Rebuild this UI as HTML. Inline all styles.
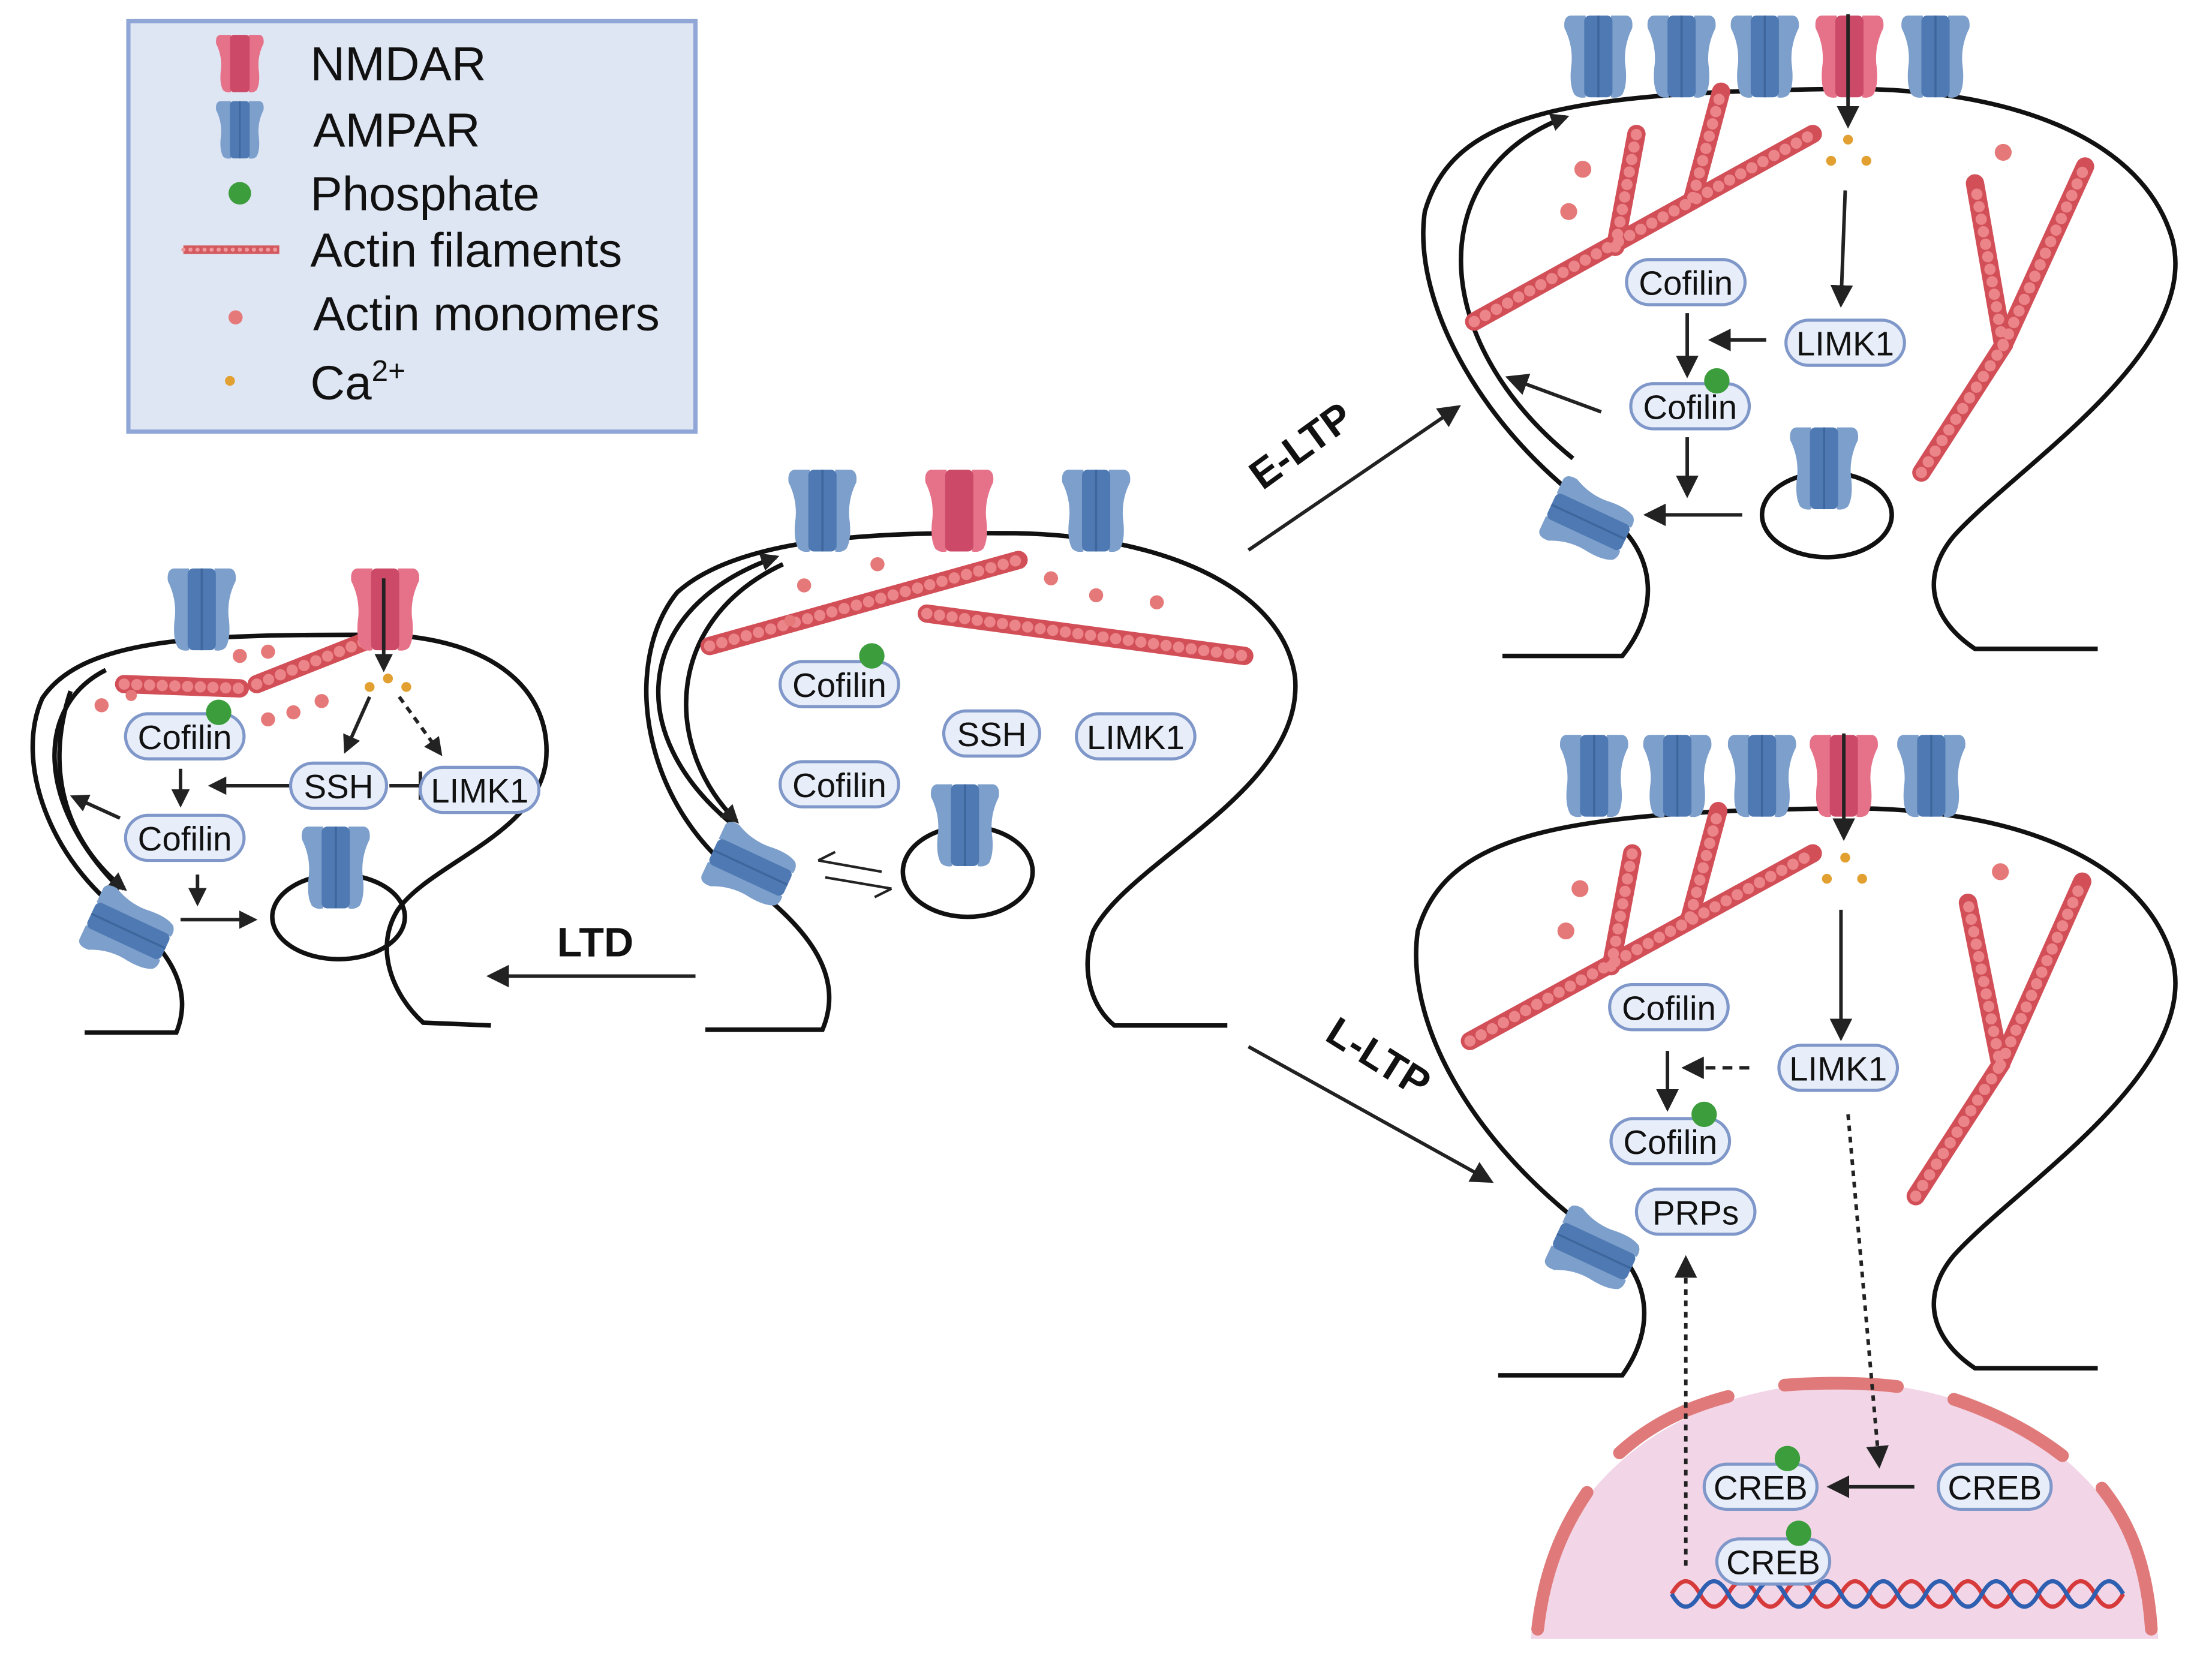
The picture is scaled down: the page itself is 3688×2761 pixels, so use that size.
<!DOCTYPE html>
<html><head><meta charset="utf-8"><style>
html,body{margin:0;padding:0;background:#fff}
svg{display:block}
text{font-family:"Liberation Sans",sans-serif}
</style></head><body>
<svg width="3688" height="2761" viewBox="0 0 1568 1174" preserveAspectRatio="none" xmlns="http://www.w3.org/2000/svg">
<defs>
<marker id="ah" viewBox="0 0 10 10" refX="8" refY="5" markerWidth="16" markerHeight="16" markerUnits="userSpaceOnUse" orient="auto"><path d="M0,0 L10,5 L0,10 z" fill="#222"/></marker>
<marker id="ahs" viewBox="0 0 10 10" refX="8" refY="5" markerWidth="13" markerHeight="13" markerUnits="userSpaceOnUse" orient="auto"><path d="M0,0 L10,5 L0,10 z" fill="#222"/></marker>
<g id="amp">
<path d="M-9,-29 L-20,-29 Q-25,-28 -24,-20 Q-18,-8 -19,5 Q-21,20 -17,27 Q-14,30 -9,29 z" fill="#7d9fcc"/>
<path d="M9,-29 L20,-29 Q25,-28 24,-20 Q18,-8 19,5 Q21,20 17,27 Q14,30 9,29 z" fill="#7d9fcc"/>
<rect x="-10" y="-29" width="20" height="58" rx="4" fill="#4e79b2"/>
<line x1="0" y1="-29" x2="0" y2="29" stroke="#3e669c" stroke-width="1.5"/>
</g>
<g id="nmd">
<path d="M-9,-29 L-20,-29 Q-25,-28 -24,-20 Q-18,-8 -19,5 Q-21,20 -17,27 Q-14,30 -9,29 z" fill="#e6728a"/>
<path d="M9,-29 L20,-29 Q25,-28 24,-20 Q18,-8 19,5 Q21,20 17,27 Q14,30 9,29 z" fill="#e6728a"/>
<rect x="-10" y="-29" width="20" height="58" rx="4" fill="#cc4a68"/>
</g>
</defs>

<!-- Legend -->
<rect x="91" y="15" width="402" height="291" fill="#dfe6f3" stroke="#8fa6d6" stroke-width="3"/>
<use href="#nmd" transform="translate(170,45) scale(0.7)"/>
<use href="#amp" transform="translate(170,92) scale(0.7)"/>
<circle cx="170" cy="137" r="8" fill="#3c9d3c"/>
<line x1="130" y1="177" x2="198" y2="177" stroke="#d45a60" stroke-width="6"/>
<line x1="130" y1="177" x2="198" y2="177" stroke="#ee9a9d" stroke-width="3" stroke-dasharray="0 5" stroke-linecap="round"/>
<circle cx="167" cy="225" r="5" fill="#e57878"/>
<circle cx="163" cy="270" r="3.5" fill="#e2a030"/>
<g font-size="34" fill="#111">
<text x="220" y="57">NMDAR</text>
<text x="222" y="104">AMPAR</text>
<text x="220" y="149">Phosphate</text>
<text x="220" y="189">Actin filaments</text>
<text x="222" y="234">Actin monomers</text>
<text x="220" y="283">Ca<tspan font-size="21" dy="-13">2+</tspan></text>
</g>

<!-- Spines -->
<g fill="none" stroke="#111" stroke-width="3.2">
<path d="M500,730 L583,730 C600,690 570,655 525,622 C455,570 440,470 480,420 C530,375 650,378 720,378 C830,380 910,420 918,480 C925,560 800,610 775,660 C765,690 775,715 790,727 L870,727"/>
<path d="M60,732 L125,732 C138,700 118,672 90,650 C35,610 10,540 30,495 C60,450 150,450 270,450 C350,452 392,490 387,540 C380,592 305,612 282,645 C265,672 278,705 300,725 L348,727"/>
<path d="M1065,465 L1150,465 C1178,430 1170,395 1150,375 C1060,320 1000,220 1010,150 C1030,80 1110,65 1310,63 C1430,63 1520,100 1540,170 C1560,250 1430,330 1385,380 C1360,410 1370,440 1400,460 L1487,460"/>
<path d="M1062,975 L1150,975 C1175,940 1168,905 1142,883 C1050,820 995,730 1005,660 C1025,590 1110,575 1310,573 C1430,573 1520,610 1540,680 C1560,760 1430,840 1385,890 C1360,920 1370,950 1400,970 L1487,970"/>
<path d="M520,585 C440,520 450,430 550,395" marker-end="url(#ahs)"/>
<path d="M555,400 C470,440 470,530 522,582" marker-end="url(#ahs)"/>
<path d="M85,630 C25,570 25,500 75,475"/>
<path d="M50,490 C30,550 50,600 88,630" marker-end="url(#ahs)"/>
<path d="M1115,325 C1010,240 1010,120 1110,83" marker-end="url(#ahs)"/>
<ellipse cx="686" cy="618" rx="46" ry="32"/>
<ellipse cx="240" cy="650" rx="47" ry="30"/>
<ellipse cx="1295" cy="365" rx="46" ry="30"/>
</g>

<!-- Nucleus -->
<path d="M1085,1162 C1100,1040 1200,982 1305,980 C1420,980 1520,1050 1530,1162 Z" fill="#f2d6e7"/>
<g fill="none" stroke="#e07a7a" stroke-width="9" stroke-linecap="round">
<path d="M1090,1155 C1095,1110 1110,1080 1125,1058"/>
<path d="M1148,1030 C1170,1010 1195,998 1225,990"/>
<path d="M1265,982 C1290,980 1320,980 1345,983"/>
<path d="M1385,992 C1415,1002 1440,1015 1462,1032"/>
<path d="M1490,1055 C1510,1080 1522,1110 1525,1155"/>
</g>
<path d="M1185,1130 q10,-18 20,0 t20,0 t20,0 t20,0 t20,0 t20,0 t20,0 t20,0 t20,0 t20,0 t20,0 t20,0 t20,0 t20,0 t20,0 t20,0" fill="none" stroke="#d63a3a" stroke-width="3"/>
<path d="M1185,1130 q10,18 20,0 t20,0 t20,0 t20,0 t20,0 t20,0 t20,0 t20,0 t20,0 t20,0 t20,0 t20,0 t20,0 t20,0 t20,0 t20,0" fill="none" stroke="#2e5fb0" stroke-width="3"/>

<!-- Actin filaments -->
<g fill="none" stroke-linecap="round">
<g stroke="#d24f58" stroke-width="13">
<path d="M503,458 L722,397"/><path d="M657,435 Q770,450 882,465"/>
<path d="M88,485 L170,488"/><path d="M182,485 L258,455"/>
<path d="M1045,228 L1285,95"/><path d="M1145,175 L1160,95"/><path d="M1200,140 L1220,65"/>
<path d="M1362,335 L1420,245 L1400,130"/><path d="M1420,245 L1478,118"/>
<path d="M1042,738 L1285,605"/><path d="M1142,685 L1157,605"/><path d="M1198,650 L1218,575"/>
<path d="M1358,848 L1418,755 L1395,640"/><path d="M1418,755 L1476,625"/>
</g>
<g stroke="#eb8589" stroke-width="8" stroke-dasharray="0 9">
<path d="M503,458 L722,397"/><path d="M657,435 Q770,450 882,465"/>
<path d="M88,485 L170,488"/><path d="M182,485 L258,455"/>
<path d="M1045,228 L1285,95"/><path d="M1145,175 L1160,95"/><path d="M1200,140 L1220,65"/>
<path d="M1362,335 L1420,245 L1400,130"/><path d="M1420,245 L1478,118"/>
<path d="M1042,738 L1285,605"/><path d="M1142,685 L1157,605"/><path d="M1198,650 L1218,575"/>
<path d="M1358,848 L1418,755 L1395,640"/><path d="M1418,755 L1476,625"/>
</g>
</g>
<g fill="#e57878">
<circle cx="570" cy="415" r="5"/><circle cx="622" cy="400" r="5"/><circle cx="745" cy="410" r="5"/><circle cx="777" cy="422" r="5"/><circle cx="820" cy="427" r="5"/><circle cx="560" cy="440" r="4"/>
<circle cx="72" cy="500" r="5"/><circle cx="170" cy="465" r="5"/><circle cx="190" cy="462" r="5"/><circle cx="190" cy="510" r="5"/><circle cx="208" cy="505" r="5"/><circle cx="228" cy="497" r="5"/><circle cx="93" cy="493" r="4"/>
<circle cx="1122" cy="120" r="6"/><circle cx="1112" cy="150" r="6"/><circle cx="1420" cy="108" r="6"/>
<circle cx="1120" cy="630" r="6"/><circle cx="1110" cy="660" r="6"/><circle cx="1418" cy="618" r="6"/>
</g>
<g fill="#e2a030">
<circle cx="262" cy="487" r="3.5"/><circle cx="275" cy="481" r="3.5"/><circle cx="288" cy="487" r="3.5"/>
<circle cx="1310" cy="99" r="3.5"/><circle cx="1298" cy="114" r="3.5"/><circle cx="1323" cy="114" r="3.5"/>
<circle cx="1308" cy="608" r="3.5"/><circle cx="1295" cy="623" r="3.5"/><circle cx="1320" cy="623" r="3.5"/>
</g>

<!-- Receptors -->
<use href="#amp" transform="translate(583,362)"/><use href="#nmd" transform="translate(680,362)"/><use href="#amp" transform="translate(777,362)"/>
<use href="#amp" transform="translate(684,585)"/><use href="#amp" transform="translate(532,615) rotate(-65)"/>
<use href="#amp" transform="translate(143,432)"/><use href="#nmd" transform="translate(273,432)"/>
<use href="#amp" transform="translate(238,615)"/><use href="#amp" transform="translate(91,660) rotate(-65)"/>
<use href="#amp" transform="translate(1133,40)"/><use href="#amp" transform="translate(1192,40)"/><use href="#amp" transform="translate(1251,40)"/><use href="#nmd" transform="translate(1311,40)"/><use href="#amp" transform="translate(1372,40)"/>
<use href="#amp" transform="translate(1293,332)"/><use href="#amp" transform="translate(1126,370) rotate(-65)"/>
<use href="#amp" transform="translate(1130,550)"/><use href="#amp" transform="translate(1189,550)"/><use href="#amp" transform="translate(1249,550)"/><use href="#nmd" transform="translate(1307,550)"/><use href="#amp" transform="translate(1369,550)"/>
<use href="#amp" transform="translate(1130,887) rotate(-65)"/>

<!-- Arrows -->
<g stroke="#222" stroke-width="2.5" fill="none">
<line x1="885" y1="390" x2="1033" y2="289" marker-end="url(#ah)"/>
<line x1="885" y1="742" x2="1056" y2="837" marker-end="url(#ah)"/>
<line x1="493" y1="692" x2="348" y2="692" marker-end="url(#ah)"/>
<path d="M580,610 L625,618 M585,622 L632,630 M580,610 L592,604 M632,630 L620,636" stroke-width="1.8"/>
<line x1="272" y1="410" x2="272" y2="474" marker-end="url(#ahs)"/>
<line x1="262" y1="494" x2="245" y2="532" marker-end="url(#ahs)"/>
<line x1="283" y1="494" x2="312" y2="534" stroke-dasharray="5 4" marker-end="url(#ahs)"/>
<line x1="205" y1="557" x2="150" y2="557" marker-end="url(#ahs)"/>
<line x1="276" y1="557" x2="298" y2="557"/><line x1="298" y1="547" x2="298" y2="567"/>
<line x1="128" y1="545" x2="128" y2="570" marker-end="url(#ahs)"/>
<line x1="140" y1="620" x2="140" y2="640" marker-end="url(#ahs)"/>
<line x1="128" y1="652" x2="180" y2="652" marker-end="url(#ahs)"/>
<line x1="85" y1="580" x2="52" y2="565" marker-end="url(#ahs)"/>
<line x1="1310" y1="10" x2="1310" y2="88" marker-end="url(#ah)"/>
<line x1="1308" y1="135" x2="1305" y2="215" marker-end="url(#ah)"/>
<line x1="1196" y1="222" x2="1196" y2="265" marker-end="url(#ah)"/>
<line x1="1252" y1="241" x2="1214" y2="241" marker-end="url(#ah)"/>
<line x1="1196" y1="310" x2="1196" y2="350" marker-end="url(#ah)"/>
<line x1="1235" y1="365" x2="1168" y2="365" marker-end="url(#ah)"/>
<line x1="1135" y1="292" x2="1070" y2="268" marker-end="url(#ah)"/>
<line x1="1307" y1="520" x2="1307" y2="593" marker-end="url(#ah)"/>
<line x1="1305" y1="645" x2="1305" y2="735" marker-end="url(#ah)"/>
<line x1="1182" y1="745" x2="1182" y2="785" marker-end="url(#ah)"/>
<line x1="1240" y1="757" x2="1195" y2="757" stroke-dasharray="7 5" marker-end="url(#ah)"/>
<line x1="1310" y1="790" x2="1332" y2="1038" stroke-dasharray="4 4" marker-end="url(#ah)"/>
<line x1="1195" y1="1110" x2="1195" y2="893" stroke-dasharray="4 4" marker-end="url(#ah)"/>
<line x1="1357" y1="1054" x2="1298" y2="1054" marker-end="url(#ah)"/>
</g>

<!-- Labels -->
<g font-size="24" fill="#111" text-anchor="middle">
<g fill="#e8eef9" stroke="#7f97c9" stroke-width="2.2">
<rect x="553" y="469" width="84" height="32" rx="16"/><rect x="669" y="504" width="68" height="32" rx="16"/><rect x="763" y="506" width="84" height="32" rx="16"/><rect x="553" y="540" width="84" height="32" rx="16"/>
<rect x="89" y="506" width="84" height="32" rx="16"/><rect x="206" y="541" width="68" height="32" rx="16"/><rect x="298" y="544" width="84" height="32" rx="16"/><rect x="89" y="578" width="84" height="32" rx="16"/>
<rect x="1153" y="184" width="84" height="32" rx="16"/><rect x="1266" y="227" width="84" height="32" rx="16"/><rect x="1156" y="272" width="84" height="32" rx="16"/>
<rect x="1141" y="698" width="84" height="32" rx="16"/><rect x="1261" y="741" width="84" height="32" rx="16"/><rect x="1142" y="793" width="84" height="32" rx="16"/><rect x="1160" y="843" width="84" height="32" rx="16"/>
<rect x="1208" y="1038" width="80" height="32" rx="16"/><rect x="1374" y="1038" width="80" height="32" rx="16"/><rect x="1217" y="1091" width="80" height="32" rx="16"/>
</g>
<g fill="#3c9d3c"><circle cx="618" cy="465" r="9"/><circle cx="155" cy="505" r="9"/><circle cx="1217" cy="270" r="9"/><circle cx="1208" cy="790" r="9"/><circle cx="1267" cy="1034" r="9"/><circle cx="1275" cy="1087" r="9"/></g>
<text x="595" y="494">Cofilin</text><text x="703" y="529">SSH</text><text x="805" y="531">LIMK1</text><text x="595" y="565">Cofilin</text>
<text x="131" y="531">Cofilin</text><text x="240" y="566">SSH</text><text x="340" y="569">LIMK1</text><text x="131" y="603">Cofilin</text>
<text x="1195" y="209">Cofilin</text><text x="1308" y="252">LIMK1</text><text x="1198" y="297">Cofilin</text>
<text x="1183" y="723">Cofilin</text><text x="1303" y="766">LIMK1</text><text x="1184" y="818">Cofilin</text><text x="1202" y="868">PRPs</text>
<text x="1248" y="1063">CREB</text><text x="1414" y="1063">CREB</text><text x="1257" y="1116">CREB</text>
</g>
<g font-size="29" font-weight="bold" fill="#111" text-anchor="middle">
<text x="422" y="678">LTD</text>
<text transform="translate(928,324) rotate(-36)">E-LTP</text>
<text transform="translate(972,758) rotate(32)">L-LTP</text>
</g>
</svg>
</body></html>
